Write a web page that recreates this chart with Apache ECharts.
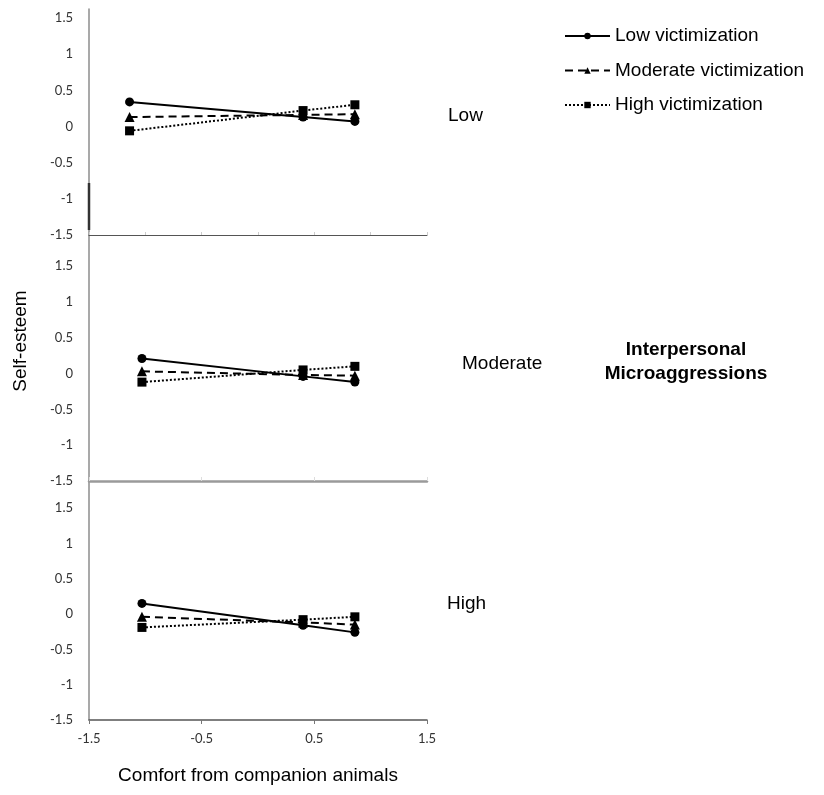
<!DOCTYPE html>
<html>
<head>
<meta charset="utf-8">
<script src="https://cdn.jsdelivr.net/npm/echarts@6/dist/echarts.min.js"></script>
<style>
html,body{margin:0;padding:0;background:#fff;}
#chart{width:824px;height:795px;}
</style>
</head>
<body>
<div id="chart"></div>
<script>
// ---- data ----
const seriesNames = ['Low victimization', 'Moderate victimization', 'High victimization'];
const panelNames = ['Low', 'Moderate', 'High'];
const xTicks = ['-1.5', '-0.5', '0.5', '1.5'];
const yTicks = ['-1.5', '-1', '-0.5', '0', '0.5', '1', '1.5'];

// comfort from companion animals (x) per panel
const xLowIM = [-1.14, 0.40, 0.86];
const xModIM = [-1.03, 0.40, 0.86];
const xHighIM = [-1.03, 0.40, 0.86];

// Low interpersonal microaggressions
const lowIM_lowVic = [0.34, 0.13, 0.07];
const lowIM_modVic = [0.13, 0.16, 0.17];
const lowIM_highVic = [-0.06, 0.22, 0.30];
// Moderate interpersonal microaggressions
const modIM_lowVic = [0.21, -0.04, -0.12];
const modIM_modVic = [0.03, -0.02, -0.03];
const modIM_highVic = [-0.12, 0.05, 0.10];
// High interpersonal microaggressions
const highIM_lowVic = [0.15, -0.16, -0.26];
const highIM_modVic = [-0.04, -0.12, -0.15];
const highIM_highVic = [-0.19, -0.08, -0.04];

const panels = [
  {x: xLowIM, ys: [lowIM_lowVic, lowIM_modVic, lowIM_highVic]},
  {x: xModIM, ys: [modIM_lowVic, modIM_modVic, modIM_highVic]},
  {x: xHighIM, ys: [highIM_lowVic, highIM_modVic, highIM_highVic]}
];

// ---- styling ----
const FONT = '"Liberation Sans", Arial, sans-serif';
const TICKFONT = 'Lato, "Liberation Sans", sans-serif';
const gridTops = [9, 235, 481];
const gridHeights = [226, 246, 239];
const yMaxes = [1.624, 1.933, 1.882];
const symbols = ['circle', 'triangle', 'rect'];
const symbolSizes = [9, 10, 9];
const lineTypes = ['solid', [8, 5], [2, 2]];

const grids = gridTops.map((t, i) => ({left: 89, right: 397, top: t, height: gridHeights[i]}));

const fmt = v => String(Math.round(v * 100) / 100);

const yAxes = yMaxes.map((m, i) => ({
  type: 'value', gridIndex: i, min: -1.5, max: m, interval: 0.5,
  axisLine: {show: true, onZero: false, lineStyle: {color: '#8c8c8c', width: 1.5}},
  axisTick: {show: false},
  splitLine: {show: false},
  axisLabel: {
    margin: 16, color: '#333', fontFamily: TICKFONT, fontSize: 13,
    formatter: v => (yTicks.indexOf(fmt(v)) >= 0 ? fmt(v) : '')
  }
}));

const xAxes = [
  {
    type: 'value', gridIndex: 0, min: -1.5, max: 1.5, interval: 0.5,
    axisLine: {show: true, onZero: false, lineStyle: {color: '#555', width: 1}},
    axisTick: {show: true, inside: true, length: 3, lineStyle: {color: '#ccc'}},
    axisLabel: {show: false}, splitLine: {show: false}
  },
  {
    type: 'value', gridIndex: 1, min: -1.5, max: 1.5, interval: 1,
    axisLine: {show: true, onZero: false, lineStyle: {color: '#9a9a9a', width: 2.5}},
    axisTick: {show: true, inside: true, length: 4, lineStyle: {color: '#ddd'}},
    axisLabel: {show: false}, splitLine: {show: false}
  },
  {
    type: 'value', gridIndex: 2, min: -1.5, max: 1.5, interval: 1,
    axisLine: {show: true, onZero: false, lineStyle: {color: '#555', width: 1.5}},
    axisTick: {show: true, inside: false, length: 4, lineStyle: {color: '#777'}},
    axisLabel: {
      margin: 12, color: '#333', fontFamily: TICKFONT, fontSize: 13,
      formatter: v => (xTicks.indexOf(fmt(v)) >= 0 ? fmt(v) : '')
    },
    splitLine: {show: false},
    name: 'Comfort from companion animals', nameLocation: 'middle', nameGap: 46,
    nameTextStyle: {fontFamily: FONT, fontSize: 19, color: '#000'}
  }
];

const series = [];
panels.forEach((p, pi) => {
  p.ys.forEach((ys, si) => {
    series.push({
      name: seriesNames[si], type: 'line', xAxisIndex: pi, yAxisIndex: pi,
      data: p.x.map((x, k) => [x, ys[k]]),
      symbol: symbols[si], symbolSize: symbolSizes[si], showSymbol: true,
      color: '#000',
      itemStyle: {color: '#000'},
      lineStyle: {color: '#000', width: 2, type: lineTypes[si]},
      z: 3 + si
    });
  });
});

const option = {
  animation: false,
  backgroundColor: '#fff',
  grid: grids,
  xAxis: xAxes,
  yAxis: yAxes,
  legend: {
    orient: 'vertical', left: 559, top: 21,
    itemWidth: 45, itemHeight: 8, itemGap: 14.5,
    data: seriesNames,
    textStyle: {fontFamily: FONT, fontSize: 19, color: '#000', lineHeight: 20}
  },
  graphic: [
    {type: 'text', x: 21, y: 341, rotation: Math.PI / 2,
      style: {text: 'Self-esteem', font: '19px ' + FONT, fill: '#000', align: 'center', verticalAlign: 'middle'}},
    {type: 'text', x: 448, y: 116,
      style: {text: panelNames[0], font: '19px ' + FONT, fill: '#000', align: 'left', verticalAlign: 'middle'}},
    {type: 'text', x: 462, y: 364,
      style: {text: panelNames[1], font: '19px ' + FONT, fill: '#000', align: 'left', verticalAlign: 'middle'}},
    {type: 'text', x: 447, y: 604,
      style: {text: panelNames[2], font: '19px ' + FONT, fill: '#000', align: 'left', verticalAlign: 'middle'}},
    {type: 'text', x: 686, y: 362,
      style: {text: 'Interpersonal\nMicroaggressions', font: 'bold 19px ' + FONT, lineHeight: 24, fill: '#000', align: 'center', verticalAlign: 'middle'}},
    {type: 'line', shape: {x1: 89, y1: 183, x2: 89, y2: 230}, style: {stroke: '#333', lineWidth: 2.5}, z: 10}
  ],
  series: series
};

const chart = echarts.init(document.getElementById('chart'), null, {renderer: 'canvas'});
chart.setOption(option);
</script>
</body>
</html>
